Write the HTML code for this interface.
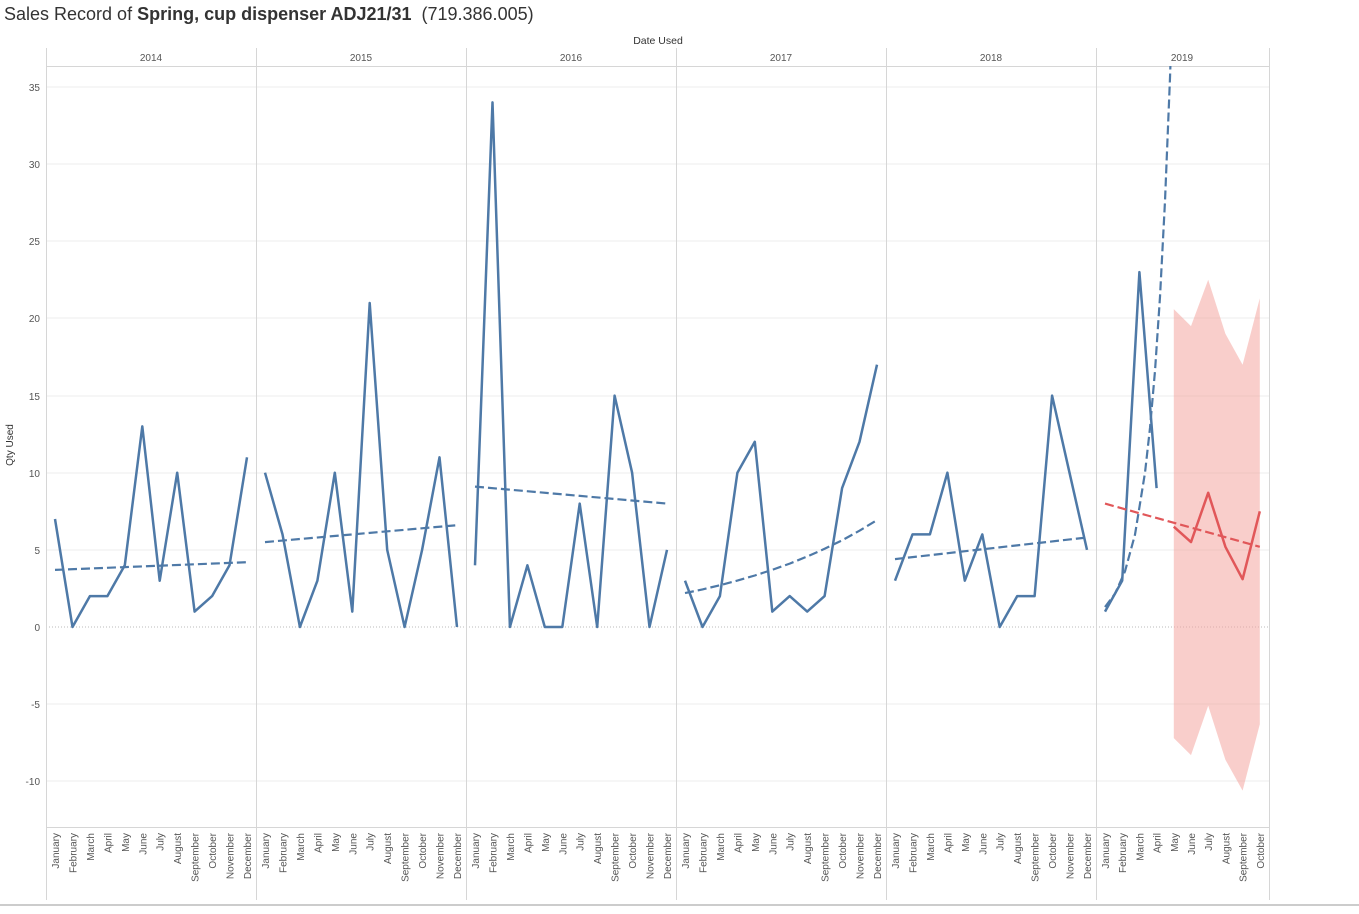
<!DOCTYPE html>
<html><head><style>
body{margin:0;background:#fff;width:1359px;height:909px;overflow:hidden;font-family:"Liberation Sans",sans-serif}
svg text{font-family:"Liberation Sans",sans-serif}
</style></head><body>
<svg width="1359" height="909" viewBox="0 0 1359 909">
<defs><clipPath id="c"><rect x="46" y="66" width="1223" height="761"/></clipPath></defs>
<text x="4" y="20" font-size="18" fill="#333">Sales Record of <tspan font-weight="bold">Spring, cup dispenser ADJ21/31</tspan>&#160; (719.386.005)</text>
<text x="658" y="44" font-size="10.5" fill="#333" text-anchor="middle">Date Used</text>
<g stroke="#ececec" stroke-width="1">
<line x1="46" x2="1269" y1="87" y2="87"/><line x1="46" x2="1269" y1="164" y2="164"/><line x1="46" x2="1269" y1="241" y2="241"/><line x1="46" x2="1269" y1="318" y2="318"/><line x1="46" x2="1269" y1="396" y2="396"/><line x1="46" x2="1269" y1="473" y2="473"/><line x1="46" x2="1269" y1="550" y2="550"/><line x1="46" x2="1269" y1="704" y2="704"/><line x1="46" x2="1269" y1="781" y2="781"/>
</g>
<line x1="46" x2="1269" y1="627" y2="627" stroke="#bbb" stroke-dasharray="1,2"/>
<g stroke="#d6d6d6" stroke-width="1">
<line x1="46" x2="1269" y1="66.5" y2="66.5"/><line x1="46" x2="1269" y1="827.5" y2="827.5"/>
<line x1="46.5" x2="46.5" y1="48" y2="900"/><line x1="256.5" x2="256.5" y1="48" y2="900"/><line x1="466.5" x2="466.5" y1="48" y2="900"/><line x1="676.5" x2="676.5" y1="48" y2="900"/><line x1="886.5" x2="886.5" y1="48" y2="900"/><line x1="1096.5" x2="1096.5" y1="48" y2="900"/><line x1="1269.5" x2="1269.5" y1="48" y2="900"/>
</g>
<line x1="0" x2="1359" y1="905" y2="905" stroke="#ccc" stroke-width="2"/>
<g font-size="10" fill="#555" text-anchor="middle">
<text x="151" y="61">2014</text><text x="361" y="61">2015</text><text x="571" y="61">2016</text><text x="781" y="61">2017</text><text x="991" y="61">2018</text><text x="1182" y="61">2019</text>
</g>
<g font-size="10" fill="#555" text-anchor="end">
<text x="40" y="91">35</text><text x="40" y="168">30</text><text x="40" y="245">25</text><text x="40" y="322">20</text><text x="40" y="400">15</text><text x="40" y="477">10</text><text x="40" y="554">5</text><text x="40" y="631">0</text><text x="40" y="708">-5</text><text x="40" y="785">-10</text>
</g>
<text transform="translate(13,445) rotate(-90)" font-size="10" fill="#333" text-anchor="middle">Qty Used</text>
<g clip-path="url(#c)" fill="none" stroke-linejoin="round">
<polygon fill="#f4a6a0" fill-opacity="0.55" stroke="none" points="1173.8,309.1 1191,326.1 1208.2,279.8 1225.4,333.8 1242.6,364.7 1259.8,298.3 1259.8,724.2 1242.6,790.6 1225.4,759.7 1208.2,705.7 1191,755.1 1173.8,738.1"/>
<g stroke="#4e79a7" stroke-width="2.5">
<polyline points="55,519 72.5,627 89.9,596.1 107.4,596.1 124.8,565.3 142.3,426.4 159.7,580.7 177.2,472.7 194.6,611.6 212.1,596.1 229.5,565.3 247,457.3"/>
<polyline points="265,472.7 282.5,534.4 299.9,627 317.4,580.7 334.8,472.7 352.3,611.6 369.7,303 387.2,549.9 404.6,627 422.1,549.9 439.5,457.3 457,627"/>
<polyline points="475,565.3 492.5,102.4 509.9,627 527.4,565.3 544.8,627 562.3,627 579.7,503.6 597.2,627 614.6,395.6 632.1,472.7 649.5,627 667,549.9"/>
<polyline points="685,580.7 702.5,627 719.9,596.1 737.4,472.7 754.8,441.8 772.3,611.6 789.7,596.1 807.2,611.6 824.6,596.1 842.1,488.1 859.5,441.8 877,364.7"/>
<polyline points="895,580.7 912.5,534.4 929.9,534.4 947.4,472.7 964.8,580.7 982.3,534.4 999.7,627 1017.2,596.1 1034.6,596.1 1052.1,395.6 1069.5,472.7 1087,549.9"/>
<polyline points="1105,611.6 1122.2,580.7 1139.4,272.1 1156.6,488.1"/>
</g>
<g stroke="#4e79a7" stroke-width="2.2" stroke-dasharray="9,4">
<line x1="55" y1="569.9" x2="247" y2="562.2"/>
<line x1="265" y1="542.1" x2="457" y2="525.2"/>
<line x1="475" y1="486.6" x2="667" y2="503.6"/>
<polyline points="685,593.1 702.5,589.4 719.9,585.2 737.4,580.6 754.8,575.5 772.3,569.8 789.7,563.6 807.2,556.5 824.6,548.8 842.1,540.3 859.5,530.7 877,520.1"/>
<line x1="895" y1="559.1" x2="1087" y2="537.5"/>
<polyline points="1105,607 1115,593.8 1125,571.3 1135,534.6 1145,472.7 1150,428 1155,370.9 1160,296.8 1165,201.1 1170,77.7 1171,48"/>
</g>
<line x1="1105" y1="503.6" x2="1259.8" y2="546.8" stroke="#e15759" stroke-width="2.2" stroke-dasharray="9,4"/>
<polyline stroke="#e15759" stroke-width="2.5" points="1173.8,526.7 1191,542.1 1208.2,492.8 1225.4,546.8 1242.6,579.2 1259.8,511.3"/>
</g>
<g font-size="10" fill="#555" text-anchor="end">
<g transform="translate(0,0)">
<text transform="translate(59,833) rotate(-90)">January</text><text transform="translate(76.5,833) rotate(-90)">February</text><text transform="translate(93.9,833) rotate(-90)">March</text><text transform="translate(111.4,833) rotate(-90)">April</text><text transform="translate(128.8,833) rotate(-90)">May</text><text transform="translate(146.3,833) rotate(-90)">June</text><text transform="translate(163.7,833) rotate(-90)">July</text><text transform="translate(181.2,833) rotate(-90)">August</text><text transform="translate(198.6,833) rotate(-90)">September</text><text transform="translate(216.1,833) rotate(-90)">October</text><text transform="translate(233.5,833) rotate(-90)">November</text><text transform="translate(251,833) rotate(-90)">December</text>
</g>
<g transform="translate(210,0)">
<text transform="translate(59,833) rotate(-90)">January</text><text transform="translate(76.5,833) rotate(-90)">February</text><text transform="translate(93.9,833) rotate(-90)">March</text><text transform="translate(111.4,833) rotate(-90)">April</text><text transform="translate(128.8,833) rotate(-90)">May</text><text transform="translate(146.3,833) rotate(-90)">June</text><text transform="translate(163.7,833) rotate(-90)">July</text><text transform="translate(181.2,833) rotate(-90)">August</text><text transform="translate(198.6,833) rotate(-90)">September</text><text transform="translate(216.1,833) rotate(-90)">October</text><text transform="translate(233.5,833) rotate(-90)">November</text><text transform="translate(251,833) rotate(-90)">December</text>
</g>
<g transform="translate(420,0)">
<text transform="translate(59,833) rotate(-90)">January</text><text transform="translate(76.5,833) rotate(-90)">February</text><text transform="translate(93.9,833) rotate(-90)">March</text><text transform="translate(111.4,833) rotate(-90)">April</text><text transform="translate(128.8,833) rotate(-90)">May</text><text transform="translate(146.3,833) rotate(-90)">June</text><text transform="translate(163.7,833) rotate(-90)">July</text><text transform="translate(181.2,833) rotate(-90)">August</text><text transform="translate(198.6,833) rotate(-90)">September</text><text transform="translate(216.1,833) rotate(-90)">October</text><text transform="translate(233.5,833) rotate(-90)">November</text><text transform="translate(251,833) rotate(-90)">December</text>
</g>
<g transform="translate(630,0)">
<text transform="translate(59,833) rotate(-90)">January</text><text transform="translate(76.5,833) rotate(-90)">February</text><text transform="translate(93.9,833) rotate(-90)">March</text><text transform="translate(111.4,833) rotate(-90)">April</text><text transform="translate(128.8,833) rotate(-90)">May</text><text transform="translate(146.3,833) rotate(-90)">June</text><text transform="translate(163.7,833) rotate(-90)">July</text><text transform="translate(181.2,833) rotate(-90)">August</text><text transform="translate(198.6,833) rotate(-90)">September</text><text transform="translate(216.1,833) rotate(-90)">October</text><text transform="translate(233.5,833) rotate(-90)">November</text><text transform="translate(251,833) rotate(-90)">December</text>
</g>
<g transform="translate(840,0)">
<text transform="translate(59,833) rotate(-90)">January</text><text transform="translate(76.5,833) rotate(-90)">February</text><text transform="translate(93.9,833) rotate(-90)">March</text><text transform="translate(111.4,833) rotate(-90)">April</text><text transform="translate(128.8,833) rotate(-90)">May</text><text transform="translate(146.3,833) rotate(-90)">June</text><text transform="translate(163.7,833) rotate(-90)">July</text><text transform="translate(181.2,833) rotate(-90)">August</text><text transform="translate(198.6,833) rotate(-90)">September</text><text transform="translate(216.1,833) rotate(-90)">October</text><text transform="translate(233.5,833) rotate(-90)">November</text><text transform="translate(251,833) rotate(-90)">December</text>
</g>
<text transform="translate(1109,833) rotate(-90)">January</text><text transform="translate(1126.2,833) rotate(-90)">February</text><text transform="translate(1143.4,833) rotate(-90)">March</text><text transform="translate(1160.6,833) rotate(-90)">April</text><text transform="translate(1177.8,833) rotate(-90)">May</text><text transform="translate(1195,833) rotate(-90)">June</text><text transform="translate(1212.2,833) rotate(-90)">July</text><text transform="translate(1229.4,833) rotate(-90)">August</text><text transform="translate(1246.6,833) rotate(-90)">September</text><text transform="translate(1263.8,833) rotate(-90)">October</text>
</g>
</svg>
</body></html>
